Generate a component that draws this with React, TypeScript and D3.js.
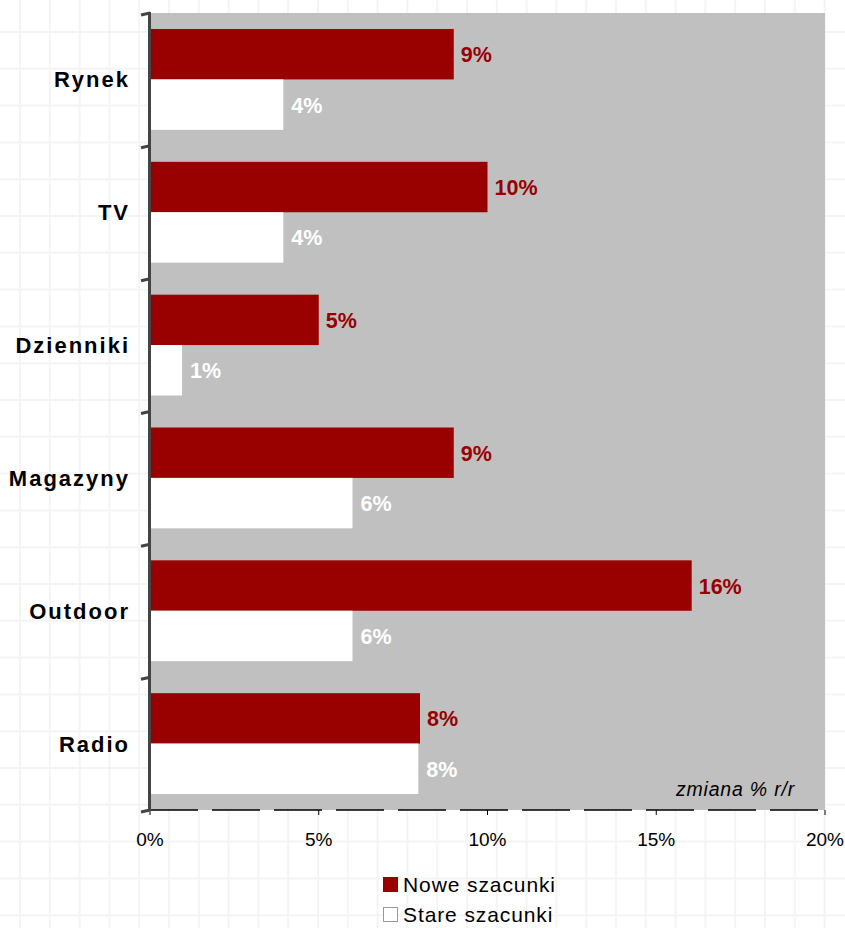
import React from "react";
import * as d3 from "d3";

const categories = ["Rynek", "TV", "Dzienniki", "Magazyny", "Outdoor", "Radio"];
const noweValues = [9.0, 10.0, 5.0, 9.0, 16.05, 8.0];
const stareValues = [3.95, 3.95, 0.95, 6.0, 6.0, 7.95];
const noweLabels = ["9%", "10%", "5%", "9%", "16%", "8%"];
const stareLabels = ["4%", "4%", "1%", "6%", "6%", "8%"];
const xTicks = [0, 5, 10, 15, 20];
const seriesNames = ["Nowe szacunki", "Stare szacunki"];
const unitNote = "zmiana % r/r";

const W = 845;
const H = 928;
const left = 150;
const right = 825;
const top = 13;
const bottom = 810;
const RED = "#990000";
const GRAY = "#c0c0c0";
const FONT = "Arial, 'Liberation Sans', sans-serif";

export default function App() {
  const x = d3.scaleLinear().domain([0, 20]).range([left, right]);
  const y = d3.scaleBand<string>().domain(categories).range([top, bottom]).paddingInner(0).paddingOuter(0);
  const bw = y.bandwidth();
  const pad = 16;
  const barH = (bw - 2 * pad) / 2;

  const vLines = d3.range(20, W, 29.8);
  const hLines = d3.range(32, H, 36.8);

  return (
    <svg width={W} height={H} style={{ position: "absolute", left: 0, top: 0, background: "#fff" }}>
      <g>
        {vLines.map((v, i) => (
          <line key={"v" + i} x1={v} x2={v} y1={0} y2={H} stroke="#f4f4f4" strokeWidth={2} />
        ))}
        {hLines.map((v, i) => (
          <line key={"h" + i} x1={0} x2={W} y1={v} y2={v} stroke="#f4f4f4" strokeWidth={2} />
        ))}
      </g>
      <rect x={left} y={top} width={right - left} height={bottom - top} fill={GRAY} />
      {categories.map((c, i) => {
        const y0 = (y(c) as number) + pad;
        const cy = (y(c) as number) + bw / 2;
        return (
          <g key={c}>
            <rect x={x(0)} y={y0} width={x(noweValues[i]) - x(0)} height={barH} fill={RED} />
            <rect x={x(0)} y={y0 + barH} width={x(stareValues[i]) - x(0)} height={barH} fill="#ffffff" />
            <text x={x(noweValues[i]) + 7} y={y0 + barH / 2 + 8} fill={RED} fontFamily={FONT} fontWeight="bold" fontSize={21.5}>
              {noweLabels[i]}
            </text>
            <text x={x(stareValues[i]) + 8} y={y0 + barH * 1.5 + 8} fill="#ffffff" fontFamily={FONT} fontWeight="bold" fontSize={21.5}>
              {stareLabels[i]}
            </text>
            <text x={130} y={cy + 8} textAnchor="end" fontFamily={FONT} fontWeight="bold" fontSize={22} letterSpacing={2} fill="#000">
              {c}
            </text>
          </g>
        );
      })}
      {/* x axis */}
      <line x1={left} x2={right} y1={bottom} y2={bottom} stroke="#000" strokeWidth={1.5} strokeDasharray="48,14" />
      {xTicks.map((t) => (
        <g key={t}>
          <line x1={x(t)} x2={x(t)} y1={bottom} y2={bottom + 5} stroke="#000" strokeWidth={1} />
          <text x={x(t)} y={846} textAnchor="middle" fontFamily={FONT} fontSize={19} fill="#000">
            {t + "%"}
          </text>
        </g>
      ))}
      {/* y axis */}
      <line x1={149.5} x2={149.5} y1={top - 1} y2={bottom + 1} stroke="#444" strokeWidth={3} />
      {d3.range(categories.length + 1).map((i) => {
        const yy = top + i * bw;
        return <line key={"yt" + i} x1={141} x2={150} y1={yy + 2} y2={yy} stroke="#444" strokeWidth={3} />;
      })}
      <text x={795} y={796} textAnchor="end" fontFamily={FONT} fontStyle="italic" fontSize={19.5} letterSpacing={0.8} fill="#000">
        {unitNote}
      </text>
      {/* legend */}
      <rect x={383} y={877} width={15} height={15} fill={RED} />
      <text x={403} y={892} fontFamily={FONT} fontSize={21} letterSpacing={0.9} fill="#000">
        {seriesNames[0]}
      </text>
      <rect x={383.5} y={907.5} width={14} height={14} fill="#fff" stroke="#999" strokeWidth={1} />
      <text x={403} y={922} fontFamily={FONT} fontSize={21} letterSpacing={0.9} fill="#000">
        {seriesNames[1]}
      </text>
    </svg>
  );
}
